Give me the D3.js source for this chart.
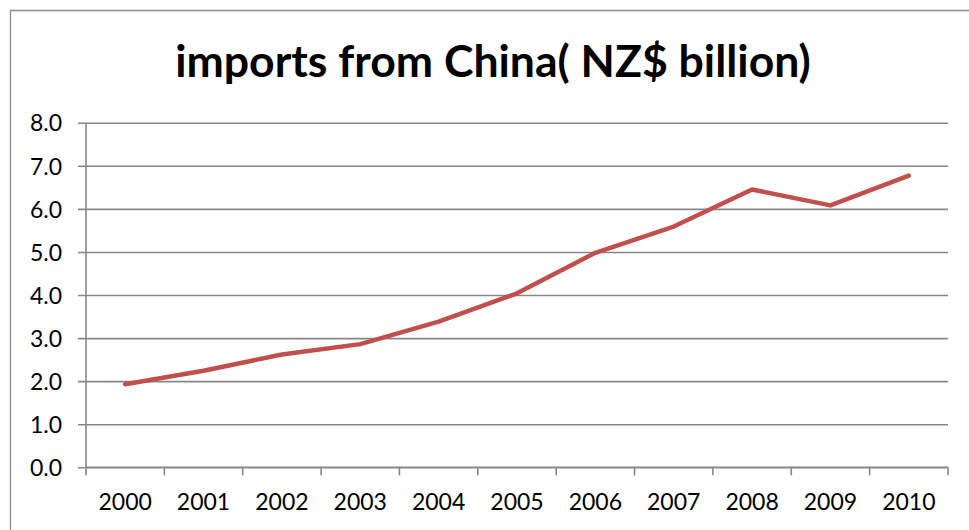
<!DOCTYPE html>
<html>
<head>
<meta charset="utf-8">
<script src="https://cdn.jsdelivr.net/npm/d3@7"></script>
<style>
  html, body { margin: 0; padding: 0; background: #fff; }
  svg { display: block; }
</style>
</head>
<body>
<svg id="chart" width="969" height="530"></svg>
<script>
const titleText = "imports from China( NZ$ billion)";
const years = ["2000","2001","2002","2003","2004","2005","2006","2007","2008","2009","2010"];
const imports = [1.93, 2.24, 2.62, 2.86, 3.38, 4.04, 4.98, 5.59, 6.45, 6.08, 6.77];
const yTicks = [0, 1, 2, 3, 4, 5, 6, 7, 8];

(function () {
const svg = d3.select("#chart");
const W = 969, H = 530;
const mLeft = 86, mRight = 948, mTop = 122.7, mBottom = 467.3;
const gridColor = "#878787";
const lineColor = "#C0504D";
const font = "Lato, 'Open Sans', sans-serif";

svg.append("rect").attr("width", W).attr("height", H).attr("fill", "#fff");

// outer border (top and left visible)
svg.append("path")
  .attr("d", "M10.5,540 V10.5 H980")
  .attr("fill", "none").attr("stroke", "#8c8c8c").attr("stroke-width", 1.3);

// title
const title = svg.append("text")
  .attr("x", 493).attr("y", 77)
  .attr("text-anchor", "middle")
  .attr("font-family", font).attr("font-weight", "bold")
  .attr("font-size", 44)
  .attr("fill", "#000")
  .text(titleText);
const tw = title.node().getComputedTextLength();
title.attr("font-size", 44 * 636 / tw);

const x = d3.scaleBand().domain(years).range([mLeft, mRight]).padding(0);
const y = d3.scaleLinear().domain([0, 8]).range([mBottom, mTop]);

// gridlines with left tick extension
const yAxis = d3.axisLeft(y).tickValues(yTicks).tickSize(-(mRight - mLeft))
  .tickFormat(d3.format(".1f")).tickPadding(16);
const gy = svg.append("g").attr("transform", `translate(${mLeft},0)`).call(yAxis);
gy.select(".domain").remove();
gy.selectAll(".tick line").attr("stroke", gridColor).attr("stroke-width", 1.6)
  .attr("x1", -8);
gy.selectAll(".tick text").attr("font-family", font).attr("font-size", 23)
  .attr("fill", "#000").attr("x", -24).attr("dy", "0.36em");

// vertical axis line
svg.append("line").attr("x1", mLeft).attr("x2", mLeft).attr("y1", mTop).attr("y2", mBottom + 0.5)
  .attr("stroke", gridColor).attr("stroke-width", 1.6);

// x axis
const boundaries = years.map(d => x(d)).concat([mRight]);
const gx = svg.append("g");
gx.append("line").attr("x1", mLeft).attr("x2", mRight).attr("y1", mBottom).attr("y2", mBottom)
  .attr("stroke", gridColor).attr("stroke-width", 1.6);
gx.selectAll("line.tk").data(boundaries).join("line").attr("class", "tk")
  .attr("x1", d => d).attr("x2", d => d).attr("y1", mBottom).attr("y2", mBottom + 8)
  .attr("stroke", gridColor).attr("stroke-width", 1.6);
gx.selectAll("text").data(years).join("text")
  .attr("x", d => x(d) + x.bandwidth() / 2).attr("y", 510)
  .attr("text-anchor", "middle")
  .attr("font-family", font).attr("font-size", 23).attr("fill", "#000")
  .text(d => d);

// data line
const line = d3.line()
  .x((d, i) => x(years[i]) + x.bandwidth() / 2)
  .y(d => y(d));
svg.append("path").datum(imports)
  .attr("d", line)
  .attr("fill", "none").attr("stroke", lineColor).attr("stroke-width", 4.5)
  .attr("stroke-linecap", "round").attr("stroke-linejoin", "round");
})();
</script>
</body>
</html>
